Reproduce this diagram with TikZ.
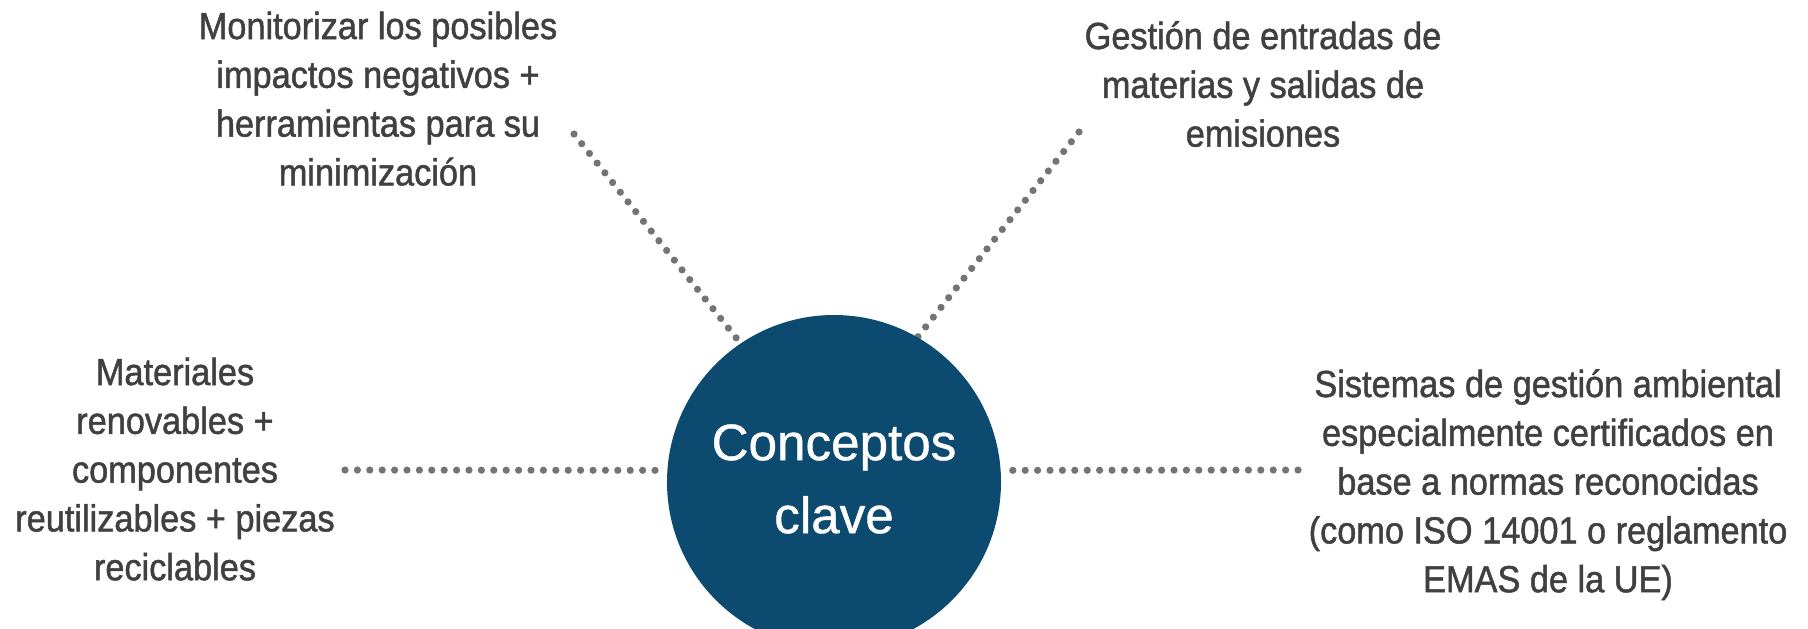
\documentclass[tikz,border=0pt]{standalone}
\usepackage{fontspec}
\setmainfont{Liberation Sans}[FakeBold=0.8]
\newfontfamily\narrowfont[FakeStretch=0.91,FakeBold=1.3]{Liberation Sans}
\usetikzlibrary{backgrounds}
\definecolor{circblue}{HTML}{0D4A6F}
\definecolor{txtgray}{HTML}{404040}
\definecolor{dotgray}{HTML}{747474}
\begin{document}
\begin{tikzpicture}[x=0.5pt,y=-0.5pt,
  lbl/.style={anchor=base, inner sep=0pt, text=txtgray,
    font=\narrowfont\fontsize{18.85}{24.4}\selectfont},
  dotline/.style={draw=dotgray, line width=3.6pt, line cap=round,
    dash pattern=on 0pt off 6.2pt},
  hub/.style={circle, fill=circblue, minimum size=167pt, inner sep=0pt,
    text=white, font=\fontsize{25.6}{36.5}\selectfont}]
\path[use as bounding box] (0,0) rectangle (1808,628);
\clip (0,0) rectangle (1808,628);
\node[hub] (c) at (834,482) {\begin{tabular}{@{}c@{}}Conceptos\\clave\end{tabular}};

\node[lbl] (tl) at (378,39) {\begin{tabular}[t]{@{}c@{}}Monitorizar los posibles\\impactos negativos +\\herramientas para su\\minimización\end{tabular}};
\node[lbl] (tr) at (1263,49) {\begin{tabular}[t]{@{}c@{}}Gestión de entradas de\\materias y salidas de\\emisiones\end{tabular}};
\node[lbl] (lt) at (175,385) {\begin{tabular}[t]{@{}c@{}}Materiales\\renovables +\\componentes\\reutilizables + piezas\\reciclables\end{tabular}};
\node[lbl] (rt) at (1548,397) {\begin{tabular}[t]{@{}c@{}}Sistemas de gestión ambiental\\especialmente certificados en\\base a normas reconocidas\\(como ISO 14001 o reglamento\\EMAS de la UE)\end{tabular}};

\coordinate (ul) at (574,134);
\coordinate (ur) at (1079,132);
\coordinate (le) at (345,470);
\coordinate (re) at (1298,470);
\begin{scope}[on background layer]
\draw[dotline] (ul) -- (c.124);
\draw[dotline] (ur) -- (c.60);
\draw[dotline] (le) -- (c.176);
\draw[dotline] (re) -- (c.4);
\end{scope}
\end{tikzpicture}
\end{document}
